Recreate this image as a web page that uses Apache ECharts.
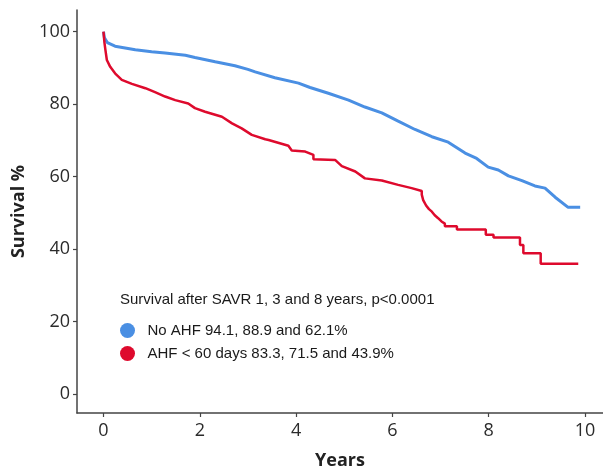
<!DOCTYPE html>
<html>
<head>
<meta charset="utf-8">
<script src="https://cdn.jsdelivr.net/npm/echarts@6/dist/echarts.min.js"></script>
<style>
html,body{margin:0;padding:0;background:#fff;}
#chart{width:603px;height:469px;}
</style>
</head>
<body>
<div id="chart"></div>
<script>
// ---- data ----
const xTicks = [0, 2, 4, 6, 8, 10];
const yTicks = [0, 20, 40, 60, 80, 100];
const legendTitle = "Survival after SAVR 1, 3 and 8 years, p<0.0001";
const seriesNames = ["No AHF 94.1, 88.9 and 62.1%", "AHF < 60 days 83.3, 71.5 and 43.9%"];

const noAhfTime = [0, 0.02, 0.08, 0.24, 0.66, 1.0, 1.28, 1.70, 1.90, 2.32, 2.73, 3.0, 3.15, 3.56, 4.05, 4.29, 4.67, 5.09, 5.43, 5.78, 6.12, 6.47, 6.82, 7.16, 7.51, 7.75, 7.99, 8.20, 8.41, 8.69, 8.96, 9.17, 9.38, 9.65, 9.9];
const noAhfSurv = [100, 98.3, 97.0, 96.0, 95.0, 94.5, 94.1, 93.5, 92.9, 91.7, 90.6, 89.6, 88.9, 87.3, 85.8, 84.6, 83.0, 81.1, 79.2, 77.6, 75.3, 73.0, 71.0, 69.5, 66.5, 65.0, 62.6, 61.8, 60.2, 58.9, 57.4, 56.8, 54.3, 51.5, 51.5];

// AHF curve: repeated times mark the visible vertical drops of the Kaplan-Meier steps
const ahfTime = [0, 0.02, 0.04, 0.07, 0.14, 0.24, 0.38, 0.59, 0.87, 1.07, 1.28, 1.49, 1.76, 1.90, 2.11, 2.46, 2.67, 2.87, 3.08, 3.36, 3.43, 3.84, 3.91, 4.19, 4.36, 4.36, 4.81, 4.95, 5.23, 5.43, 5.78, 6.12, 6.40, 6.61, 6.61, 6.64, 6.70, 6.76, 6.82, 6.88, 6.95, 7.02, 7.09, 7.09, 7.34, 7.34, 7.94, 7.94, 8.10, 8.10, 8.65, 8.65, 8.72, 8.72, 9.08, 9.08, 9.86];
const ahfSurv = [100, 97.0, 95.0, 92.2, 90.3, 88.5, 86.7, 85.6, 84.4, 83.3, 82.1, 81.1, 80.2, 78.9, 77.9, 76.5, 74.7, 73.3, 71.5, 70.3, 70.1, 68.5, 67.2, 66.9, 66.0, 64.8, 64.6, 62.9, 61.4, 59.5, 58.9, 57.7, 56.8, 56.0, 55.0, 53.5, 52.0, 51.0, 50.3, 49.3, 48.5, 47.6, 47.0, 46.3, 46.3, 45.4, 45.4, 43.9, 43.9, 43.2, 43.2, 41.1, 41.1, 38.8, 38.8, 35.9, 35.9];

const colors = ["#4a8fe3", "#de0a2d"];

function pairs(t, v) { return t.map((x, i) => [x, v[i]]); }

const chart = echarts.init(document.getElementById('chart'));
const tickFont = { fontFamily: 'Open Sans', fontSize: 18, color: '#2b2b2b' };
chart.setOption({
  animation: false,
  backgroundColor: '#fff',
  grid: { left: 77, right: 0, top: 10, bottom: 56, containLabel: false, outerBoundsMode: 'none' },
  title: {
    text: legendTitle, left: 120, top: 292, padding: 0,
    textStyle: { fontFamily: 'Liberation Sans', fontSize: 15, fontWeight: 'normal', color: '#1a1a1a' }
  },
  legend: {
    orient: 'vertical', left: 115, top: 318, icon: 'circle',
    itemWidth: 30, itemHeight: 15, itemGap: 8,
    data: seriesNames,
    textStyle: { fontFamily: 'Liberation Sans', fontSize: 15, color: '#1a1a1a' }
  },
  xAxis: {
    type: 'value', min: -0.55, max: 10.374,
    name: 'Years', nameLocation: 'middle', nameGap: 39,
    nameTextStyle: { fontFamily: 'Open Sans', fontWeight: 'bold', fontSize: 18, color: '#222' },
    axisLine: { show: true, onZero: false, lineStyle: { color: '#444', width: 1.5 } },
    axisTick: { show: true, length: 4, customValues: xTicks, lineStyle: { color: '#444', width: 1.2 } },
    axisLabel: Object.assign({ customValues: xTicks, margin: 9 }, tickFont),
    splitLine: { show: false }
  },
  yAxis: {
    type: 'value', min: -5.3, max: 106,
    name: 'Survival %', nameLocation: 'middle', nameGap: 46, nameRotate: 90,
    nameTextStyle: { fontFamily: 'Open Sans', fontWeight: 'bold', fontSize: 18, color: '#222' },
    axisLine: { show: true, onZero: false, lineStyle: { color: '#444', width: 1.5 } },
    axisTick: { show: true, length: 4, customValues: yTicks, lineStyle: { color: '#444', width: 1.2 } },
    axisLabel: Object.assign({ customValues: yTicks, margin: 7 }, tickFont),
    splitLine: { show: false }
  },
  series: [
    {
      name: seriesNames[0], type: 'line', data: pairs(noAhfTime, noAhfSurv),
      showSymbol: false, symbol: 'none', smooth: false,
      lineStyle: { color: colors[0], width: 3 }, itemStyle: { color: colors[0] }
    },
    {
      name: seriesNames[1], type: 'line', data: pairs(ahfTime, ahfSurv),
      showSymbol: false, symbol: 'none',
      lineStyle: { color: colors[1], width: 2.5 }, itemStyle: { color: colors[1] }
    }
  ]
});
</script>
</body>
</html>
